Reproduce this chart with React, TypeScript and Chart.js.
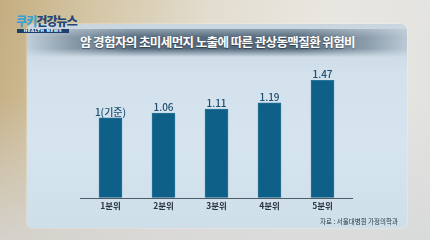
import React, { useEffect, useRef } from "react";
import { Chart, registerables } from "chart.js";

Chart.register(...registerables);

const categories = ["1분위", "2분위", "3분위", "4분위", "5분위"];
const riskRatios = [1, 1.06, 1.11, 1.19, 1.47];
const baselineSuffix = "(기준)";
const titleText = "암 경험자의 초미세먼지 노출에 따른 관상동맥질환 위험비";
const sourceText = "자료 : 서울대병원 가정의학과";

const valueLabelPlugin = {
  id: "valueLabels",
  afterDatasetsDraw(chart: any) {
    const ctx = chart.ctx;
    const meta = chart.getDatasetMeta(0);
    const data = chart.data.datasets[0].data as number[];
    ctx.save();
    ctx.font = "500 10px 'Noto Sans CJK KR', 'Noto Sans', sans-serif";
    ctx.fillStyle = "#1d4d70";
    ctx.textAlign = "center";
    ctx.textBaseline = "bottom";
    meta.data.forEach((bar: any, i: number) => {
      const v = data[i];
      const txt = i === 0 ? `${v}${baselineSuffix}` : v.toFixed(2);
      ctx.fillText(txt, bar.x, bar.y - 1);
    });
    ctx.restore();
  },
};

const baselinePlugin = {
  id: "baseline",
  afterDraw(chart: any) {
    const { ctx, chartArea } = chart;
    ctx.save();
    ctx.strokeStyle = "#4d5c68";
    ctx.lineWidth = 1;
    ctx.beginPath();
    ctx.moveTo(chartArea.left - 4, Math.round(chartArea.bottom) + 0.5);
    ctx.lineTo(chartArea.right + 4, Math.round(chartArea.bottom) + 0.5);
    ctx.stroke();
    ctx.restore();
  },
};

export default function App() {
  const ref = useRef<HTMLCanvasElement>(null);
  useEffect(() => {
    document.body.style.margin = "0";
    const chart = new Chart(ref.current!, {
      type: "bar",
      data: {
        labels: categories,
        datasets: [
          {
            data: riskRatios,
            backgroundColor: "#0e6088",
            borderColor: "#2a7399",
            borderWidth: 1,
            barThickness: 23,
          },
        ],
      },
      options: {
        animation: false,
        responsive: false,
        maintainAspectRatio: false,
        layout: { padding: { left: 84, right: 81, top: 70, bottom: 26 } },
        plugins: { legend: { display: false }, tooltip: { enabled: false } },
        scales: {
          x: {
            grid: { display: false, drawTicks: false },
            border: { display: false },
            ticks: {
              padding: 3,
              color: "#2b3540",
              font: { size: 8.5, weight: "bold", family: "'Noto Sans CJK KR', sans-serif" },
            },
          },
          y: { display: false, min: 0, max: 1.6 },
        },
      },
      plugins: [valueLabelPlugin, baselinePlugin],
    });
    return () => chart.destroy();
  }, []);

  return (
    <div
      style={{
        position: "fixed",
        left: 0,
        top: 0,
        width: 430,
        height: 240,
        overflow: "hidden",
        background:
          "linear-gradient(100deg, #c4ad80 0%, #d3c4a2 18%, #e3ddcf 45%, #e9e7e1 70%, #e2e2df 100%)",
        fontFamily: "'Noto Sans CJK KR', sans-serif",
      }}
    >
      <div
        style={{
          position: "absolute",
          left: 0,
          top: 0,
          width: 430,
          height: 240,
          background: "linear-gradient(to bottom, rgba(255,255,255,0) 40%, rgba(215,216,218,0.8) 100%)",
        }}
      />
      <div
        style={{
          position: "absolute",
          left: 27,
          top: 24,
          width: 380,
          height: 204,
          borderRadius: 6,
          background: "linear-gradient(to bottom, #c9d6df 0%, #d2e1ec 25%, #d5e4ee 60%, #cfdfea 100%)",
          boxShadow: "0 0 2px rgba(255,255,255,0.8)",
        }}
      />
      <div
        style={{
          position: "absolute",
          left: 27,
          top: 29,
          width: 380,
          height: 28,
          background:
            "linear-gradient(to right, rgba(90,110,130,0.1) 0%, rgba(80,100,120,0.55) 12%, rgba(72,93,113,0.9) 28%, rgba(72,93,113,0.9) 72%, rgba(80,100,120,0.5) 90%, rgba(90,110,130,0.15) 100%)",
          WebkitMaskImage: "linear-gradient(to bottom, rgba(0,0,0,0.5) 0%, #000 30%, #000 70%, rgba(0,0,0,0) 100%)",
          maskImage: "linear-gradient(to bottom, rgba(0,0,0,0.5) 0%, #000 30%, #000 70%, rgba(0,0,0,0) 100%)",
        }}
      />
      <div
        style={{
          position: "absolute",
          left: 0,
          width: 435,
          top: 33,
          textAlign: "center",
          color: "#ffffff",
          fontWeight: 700,
          fontSize: 12.5,
          letterSpacing: -0.6,
          lineHeight: "18px",
          textShadow: "0 1px 1px rgba(0,0,0,0.4)",
        }}
      >
        {titleText}
      </div>
      <div
        style={{
          position: "absolute",
          left: 16,
          top: 13,
          fontSize: 12,
          fontWeight: 900,
          letterSpacing: -0.9,
          lineHeight: "15px",
          whiteSpace: "nowrap",
        }}
      >
        <span style={{ color: "#3a9fd0" }}>쿠키</span>
        <span style={{ color: "#1e477a" }}>건강뉴스</span>
      </div>
      <div
        style={{
          position: "absolute",
          left: 17,
          top: 29,
          width: 52,
          height: 4,
          background: "#1c3f6e",
          color: "#ffffff",
          fontSize: 4,
          lineHeight: "4px",
          textAlign: "center",
          fontFamily: "'DejaVu Sans', sans-serif",
          fontWeight: 700,
          letterSpacing: 0.6,
        }}
      >
        HEALTH NEWS
      </div>
      <canvas
        ref={ref}
        width={430}
        height={240}
        style={{ position: "absolute", left: 0, top: 0, width: 430, height: 240 }}
      />
      <div
        style={{
          position: "absolute",
          right: 32,
          top: 216,
          fontSize: 6.5,
          color: "#2e3840",
          lineHeight: "10px",
          whiteSpace: "nowrap",
        }}
      >
        {sourceText}
      </div>
    </div>
  );
}
